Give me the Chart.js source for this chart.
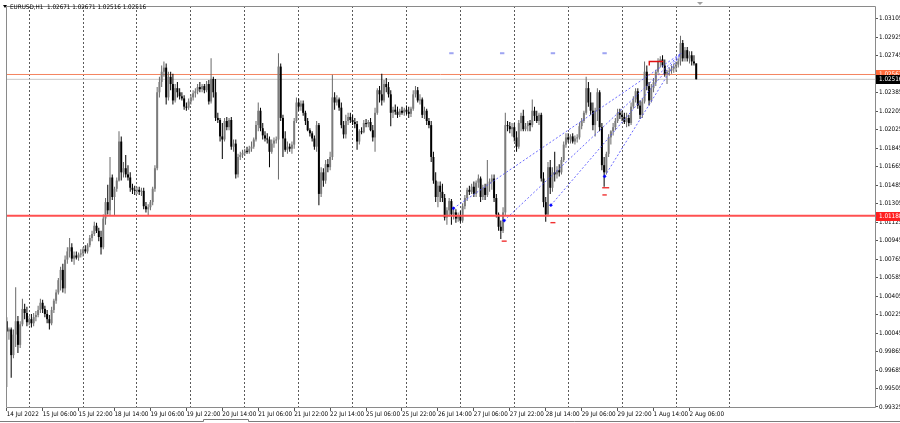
<!DOCTYPE html>
<html><head><meta charset="utf-8">
<script src="https://cdn.jsdelivr.net/npm/chart.js@4/dist/chart.umd.min.js"></script>
<style>html,body{margin:0;padding:0;background:#fff;}canvas{display:block;}</style>
</head><body>
<canvas id="c" width="900" height="423"></canvas>
<script>
// ---------- DATA ----------
const symbolTitle = "EURUSD,H1  1.02671 1.02671 1.02516 1.02516";
const timeLabels = ["14 Jul 2022","15 Jul 06:00","15 Jul 22:00","18 Jul 14:00","19 Jul 06:00","19 Jul 22:00","20 Jul 14:00","21 Jul 06:00","21 Jul 22:00","22 Jul 14:00","25 Jul 06:00","25 Jul 22:00","26 Jul 14:00","27 Jul 06:00","27 Jul 22:00","28 Jul 14:00","29 Jul 06:00","29 Jul 22:00","1 Aug 14:00","2 Aug 06:00"];
const priceTicks = [0.99325,0.99505,0.99685,0.99865,1.00045,1.00225,1.00405,1.00585,1.00765,1.00945,1.01125,1.01305,1.01485,1.01665,1.01845,1.02025,1.02205,1.02385,1.02565,1.02745,1.02925,1.03105];

const opens = [1.0016,1.0006,1.0008,0.9983,1.0003,1.0016,0.9993,1.0013,1.0028,1.0024,1.0015,1.0018,1.0014,1.0020,1.0022,1.0027,1.0034,1.0028,1.0023,1.0018,
1.0014,1.0027,1.0036,1.0044,1.0056,1.0066,1.0048,1.0076,1.0084,1.0088,1.0077,1.0080,1.0078,1.0081,1.0082,1.0086,1.0084,1.0090,1.0097,1.0101,
1.0109,1.0104,1.0098,1.0088,1.0116,1.0132,1.0124,1.0156,1.0137,1.0145,1.0153,1.0191,1.0161,1.0165,1.0159,1.0156,1.0146,1.0144,1.0143,1.0144,
1.0142,1.0143,1.0128,1.0125,1.0127,1.0132,1.0145,1.0165,1.0239,1.0249,1.0259,1.0263,1.0234,1.0254,1.0247,1.0231,1.0243,1.0239,1.0235,1.0233,
1.0225,1.0224,1.0230,1.0234,1.0238,1.0240,1.0244,1.0242,1.0245,1.0241,1.0247,1.0230,1.0252,1.0239,1.0214,1.0212,1.0196,1.0193,1.0211,1.0205,
1.0212,1.0186,1.0189,1.0159,1.0176,1.0178,1.0180,1.0182,1.0181,1.0184,1.0186,1.0193,1.0207,1.0221,1.0204,1.0197,1.0194,1.0193,1.0181,1.0189,
1.0192,1.0193,1.0264,1.0214,1.0194,1.0183,1.0186,1.0184,1.0188,1.0211,1.0229,1.0225,1.0228,1.0219,1.0211,1.0202,1.0199,1.0194,1.0186,1.0207,
1.0140,1.0161,1.0153,1.0169,1.0166,1.0176,1.0234,1.0229,1.0232,1.0224,1.0207,1.0198,1.0211,1.0215,1.0212,1.0210,1.0208,1.0191,1.0201,1.0200,
1.0209,1.0208,1.0210,1.0202,1.0195,1.0219,1.0241,1.0237,1.0231,1.0247,1.0244,1.0237,1.0219,1.0222,1.0220,1.0217,1.0221,1.0219,1.0222,1.0220,
1.0218,1.0223,1.0237,1.0241,1.0231,1.0232,1.0217,1.0221,1.0211,1.0207,1.0176,1.0153,1.0137,1.0148,1.0142,1.0136,1.0117,1.0124,1.0133,1.0120,
1.0122,1.0116,1.0119,1.0114,1.0128,1.0136,1.0144,1.0142,1.0147,1.0140,1.0151,1.0155,1.0137,1.0146,1.0139,1.0150,1.0152,1.0155,1.0136,1.0120,
1.0108,1.0104,1.0122,1.0207,1.0206,1.0203,1.0205,1.0195,1.0186,1.0209,1.0216,1.0203,1.0206,1.0209,1.0207,1.0221,1.0216,1.0211,1.0217,1.0155,
1.0132,1.0120,1.0166,1.0146,1.0161,1.0159,1.0163,1.0161,1.0173,1.0188,1.0195,1.0193,1.0196,1.0191,1.0194,1.0195,1.0206,1.0211,1.0219,1.0243,
1.0229,1.0221,1.0207,1.0221,1.0239,1.0205,1.0168,1.0161,1.0179,1.0195,1.0201,1.0205,1.0211,1.0219,1.0217,1.0215,1.0210,1.0214,1.0209,1.0225,
1.0232,1.0240,1.0226,1.0217,1.0230,1.0259,1.0245,1.0231,1.0243,1.0249,1.0259,1.0269,1.0271,1.0265,1.0257,1.0259,1.0260,1.0262,1.0264,1.0266,
1.0269,1.0287,1.0272,1.0280,1.0272,1.0275,1.0269,1.02671];

const highs = [1.0020,1.0010,1.0010,1.0008,1.0049,1.0021,1.0016,1.0038,1.0033,1.0030,1.0021,1.0023,1.0024,1.0026,1.0031,1.0038,1.0037,1.0031,1.0027,1.0022,
1.0030,1.0038,1.0047,1.0058,1.0069,1.0072,1.0080,1.0088,1.0097,1.0092,1.0084,1.0084,1.0083,1.0086,1.0088,1.0090,1.0092,1.0100,1.0104,1.0113,
1.0112,1.0107,1.0104,1.0120,1.0136,1.0149,1.0176,1.0159,1.0147,1.0156,1.0201,1.0196,1.0171,1.0178,1.0168,1.0161,1.0150,1.0148,1.0147,1.0147,
1.0146,1.0146,1.0132,1.0130,1.0134,1.0147,1.0168,1.0244,1.0254,1.0265,1.0269,1.0267,1.0259,1.0259,1.0257,1.0247,1.0249,1.0243,1.0239,1.0236,
1.0229,1.0233,1.0237,1.0241,1.0243,1.0247,1.0249,1.0247,1.0247,1.0250,1.0251,1.0272,1.0254,1.0252,1.0219,1.0214,1.0209,1.0214,1.0215,1.0214,
1.0215,1.0193,1.0193,1.0179,1.0181,1.0183,1.0184,1.0186,1.0187,1.0191,1.0195,1.0211,1.0229,1.0224,1.0209,1.0201,1.0199,1.0196,1.0193,1.0195,
1.0196,1.0277,1.0267,1.0217,1.0201,1.0191,1.0189,1.0191,1.0214,1.0234,1.0233,1.0231,1.0231,1.0221,1.0214,1.0204,1.0201,1.0197,1.0211,1.0209,
1.0166,1.0165,1.0173,1.0174,1.0181,1.0256,1.0239,1.0236,1.0234,1.0229,1.0211,1.0217,1.0219,1.0219,1.0217,1.0214,1.0211,1.0203,1.0205,1.0212,
1.0213,1.0212,1.0214,1.0207,1.0224,1.0243,1.0245,1.0257,1.0251,1.0253,1.0249,1.0241,1.0225,1.0227,1.0225,1.0223,1.0225,1.0224,1.0226,1.0225,
1.0225,1.0241,1.0245,1.0244,1.0237,1.0234,1.0225,1.0223,1.0214,1.0211,1.0181,1.0161,1.0152,1.0152,1.0150,1.0140,1.0127,1.0136,1.0135,1.0127,
1.0125,1.0122,1.0123,1.0131,1.0139,1.0146,1.0148,1.0150,1.0152,1.0153,1.0159,1.0157,1.0149,1.0150,1.0173,1.0155,1.0159,1.0159,1.0140,1.0122,
1.0114,1.0127,1.0219,1.0211,1.0210,1.0209,1.0209,1.0201,1.0212,1.0219,1.0222,1.0209,1.0211,1.0212,1.0232,1.0225,1.0221,1.0219,1.0219,1.0161,
1.0137,1.0171,1.0173,1.0166,1.0181,1.0167,1.0169,1.0176,1.0191,1.0199,1.0199,1.0198,1.0199,1.0197,1.0198,1.0209,1.0214,1.0221,1.0254,1.0249,
1.0239,1.0229,1.0224,1.0243,1.0241,1.0209,1.0176,1.0181,1.0198,1.0202,1.0209,1.0214,1.0223,1.0223,1.0221,1.0219,1.0219,1.0217,1.0229,1.0235,
1.0243,1.0243,1.0231,1.0233,1.0269,1.0265,1.0249,1.0247,1.0253,1.0261,1.0272,1.0274,1.0275,1.0271,1.0261,1.0263,1.0265,1.0267,1.0269,1.0272,
1.0294,1.0290,1.0283,1.0283,1.0279,1.0279,1.0275,1.02671];

const lows = [0.9952,0.9998,0.9961,0.9980,0.9991,0.9985,0.9990,1.0011,1.0018,1.0011,1.0012,1.0010,1.0011,1.0016,1.0020,1.0024,1.0024,1.0020,1.0014,1.0008,
1.0012,1.0024,1.0033,1.0042,1.0046,1.0044,1.0043,1.0072,1.0078,1.0074,1.0071,1.0076,1.0075,1.0078,1.0079,1.0082,1.0082,1.0088,1.0094,1.0099,
1.0102,1.0094,1.0081,1.0086,1.0110,1.0120,1.0119,1.0134,1.0119,1.0142,1.0152,1.0153,1.0156,1.0156,1.0153,1.0142,1.0140,1.0139,1.0140,1.0139,
1.0138,1.0125,1.0122,1.0119,1.0124,1.0129,1.0142,1.0163,1.0234,1.0244,1.0254,1.0227,1.0231,1.0241,1.0227,1.0229,1.0234,1.0232,1.0231,1.0222,
1.0221,1.0222,1.0227,1.0231,1.0234,1.0237,1.0239,1.0239,1.0238,1.0239,1.0227,1.0228,1.0234,1.0211,1.0209,1.0191,1.0174,1.0191,1.0202,1.0202,
1.0183,1.0181,1.0155,1.0156,1.0173,1.0175,1.0177,1.0179,1.0179,1.0181,1.0184,1.0191,1.0201,1.0201,1.0193,1.0191,1.0189,1.0166,1.0179,1.0185,
1.0189,1.0154,1.0211,1.0176,1.0181,1.0179,1.0181,1.0179,1.0184,1.0209,1.0221,1.0221,1.0216,1.0207,1.0201,1.0196,1.0191,1.0183,1.0181,1.0129,
1.0137,1.0147,1.0150,1.0161,1.0163,1.0173,1.0222,1.0226,1.0221,1.0204,1.0194,1.0194,1.0207,1.0209,1.0207,1.0204,1.0183,1.0188,1.0198,1.0199,
1.0205,1.0205,1.0201,1.0191,1.0181,1.0217,1.0229,1.0226,1.0229,1.0239,1.0234,1.0206,1.0214,1.0217,1.0214,1.0215,1.0217,1.0216,1.0217,1.0214,
1.0215,1.0221,1.0234,1.0229,1.0227,1.0214,1.0213,1.0207,1.0204,1.0171,1.0150,1.0132,1.0127,1.0132,1.0132,1.0114,1.0110,1.0118,1.0110,1.0115,
1.0112,1.0113,1.0112,1.0112,1.0125,1.0133,1.0139,1.0140,1.0137,1.0137,1.0146,1.0132,1.0134,1.0134,1.0137,1.0142,1.0144,1.0132,1.0117,1.0104,
1.0096,1.0102,1.0119,1.0201,1.0199,1.0196,1.0191,1.0181,1.0184,1.0201,1.0201,1.0201,1.0201,1.0201,1.0205,1.0211,1.0209,1.0207,1.0152,1.0127,
1.0113,1.0118,1.0140,1.0142,1.0152,1.0155,1.0157,1.0159,1.0171,1.0185,1.0190,1.0189,1.0189,1.0188,1.0190,1.0193,1.0203,1.0209,1.0217,1.0225,
1.0217,1.0202,1.0196,1.0211,1.0201,1.0163,1.0147,1.0159,1.0176,1.0188,1.0197,1.0202,1.0209,1.0213,1.0211,1.0208,1.0205,1.0206,1.0207,1.0223,
1.0229,1.0223,1.0213,1.0214,1.0228,1.0241,1.0226,1.0229,1.0239,1.0245,1.0257,1.0263,1.0263,1.0254,1.0247,1.0255,1.0257,1.0258,1.0259,1.0263,
1.0265,1.0269,1.0269,1.0269,1.0267,1.0265,1.0265,1.02516];

const closes = [1.0006,1.0008,0.9983,1.0003,1.0016,0.9993,1.0013,1.0028,1.0024,1.0015,1.0018,1.0014,1.0020,1.0022,1.0027,1.0034,1.0028,1.0023,1.0018,1.0014,
1.0027,1.0036,1.0044,1.0056,1.0066,1.0048,1.0076,1.0084,1.0088,1.0077,1.0080,1.0078,1.0081,1.0082,1.0086,1.0084,1.0090,1.0097,1.0101,1.0109,
1.0104,1.0098,1.0088,1.0116,1.0132,1.0124,1.0156,1.0137,1.0145,1.0153,1.0191,1.0161,1.0165,1.0159,1.0156,1.0146,1.0144,1.0143,1.0144,1.0142,
1.0143,1.0128,1.0125,1.0127,1.0132,1.0145,1.0165,1.0239,1.0249,1.0259,1.0263,1.0234,1.0254,1.0247,1.0231,1.0243,1.0239,1.0235,1.0233,1.0225,
1.0224,1.0230,1.0234,1.0238,1.0240,1.0244,1.0242,1.0245,1.0241,1.0247,1.0230,1.0252,1.0239,1.0214,1.0212,1.0196,1.0193,1.0211,1.0205,1.0212,
1.0186,1.0189,1.0159,1.0176,1.0178,1.0180,1.0182,1.0181,1.0184,1.0186,1.0193,1.0207,1.0221,1.0204,1.0197,1.0194,1.0193,1.0181,1.0189,1.0192,
1.0193,1.0264,1.0214,1.0194,1.0183,1.0186,1.0184,1.0188,1.0211,1.0229,1.0225,1.0228,1.0219,1.0211,1.0202,1.0199,1.0194,1.0186,1.0207,1.0140,
1.0161,1.0153,1.0169,1.0166,1.0176,1.0234,1.0229,1.0232,1.0224,1.0207,1.0198,1.0211,1.0215,1.0212,1.0210,1.0208,1.0191,1.0201,1.0200,1.0209,
1.0208,1.0210,1.0202,1.0195,1.0219,1.0241,1.0237,1.0231,1.0247,1.0244,1.0237,1.0219,1.0222,1.0220,1.0217,1.0221,1.0219,1.0222,1.0220,1.0218,
1.0223,1.0237,1.0241,1.0231,1.0232,1.0217,1.0221,1.0211,1.0207,1.0176,1.0153,1.0137,1.0148,1.0142,1.0136,1.0117,1.0124,1.0133,1.0120,1.0122,
1.0116,1.0119,1.0114,1.0128,1.0136,1.0144,1.0142,1.0147,1.0140,1.0151,1.0155,1.0137,1.0146,1.0139,1.0150,1.0152,1.0155,1.0136,1.0120,1.0108,
1.0104,1.0122,1.0207,1.0206,1.0203,1.0205,1.0195,1.0186,1.0209,1.0216,1.0203,1.0206,1.0209,1.0207,1.0221,1.0216,1.0211,1.0217,1.0155,1.0132,
1.0120,1.0166,1.0146,1.0161,1.0159,1.0163,1.0161,1.0173,1.0188,1.0195,1.0193,1.0196,1.0191,1.0194,1.0195,1.0206,1.0211,1.0219,1.0243,1.0229,
1.0221,1.0207,1.0221,1.0239,1.0205,1.0168,1.0161,1.0179,1.0195,1.0201,1.0205,1.0211,1.0219,1.0217,1.0215,1.0210,1.0214,1.0209,1.0225,1.0232,
1.0240,1.0226,1.0217,1.0230,1.0259,1.0245,1.0231,1.0243,1.0249,1.0259,1.0269,1.0271,1.0265,1.0257,1.0259,1.0260,1.0262,1.0264,1.0266,1.0269,
1.0287,1.0272,1.0280,1.0272,1.0275,1.0269,1.02671,1.02516];

// horizontal levels
const supportLevel = [1.01188];
const resistanceLevel = [1.02563];
const bidLevel = [1.02516];
// fan trend lines (bar index, price)
const fanStartBars = [198.9, 221.5, 242.3, 266.2];
const fanStartPrices = [1.0126, 1.0114, 1.0129, 1.0157];
const fanEndBars = [300.3];
const fanEndPrices = [1.0277];
// small marks
const topMarkBars = [198.0, 220.6, 243.2, 266.2];
const topMarkPrices = [1.0277, 1.0277, 1.0277, 1.0277];
const lowMarkBars = [221.5, 243.2, 266.7, 266.2];
const lowMarkPrices = [1.0094, 1.0112, 1.0146, 1.0139];
const rangeBars = [286.1, 286.1, 292.3];
const rangePrices = [1.0265, 1.0269, 1.0269];

// ---------- CHART ----------
const FONT = "'Liberation Sans Narrow','DejaVu Sans Condensed','Liberation Sans',sans-serif";
const FS = 6.3;
const X_MIN = -0.31, X_MAX = 386.6;
const labelBars = timeLabels.map((_, k) => k * 16);
const dayBars = [];
for (let b = 10; b <= 322; b += 24) dayBars.push(b);
const UP = '#7c7c7c', DN = '#000000';
const isUp = i => closes[i] >= opens[i];
const idx = closes.map((_, i) => i);

const wickData = idx.map(i => ({x: i, y: [lows[i], highs[i]]}));
const bodyData = idx.map(i => ({x: i, y: [opens[i], closes[i]]}));
const colorFn = c => isUp(c.dataIndex) ? UP : DN;

const hline = (v) => [{x: X_MIN, y: v}, {x: X_MAX, y: v}];

const datasets = [
  {type:'bar', data: wickData, grouped:false, barPercentage:0.45, categoryPercentage:1, backgroundColor: c => isUp(c.dataIndex) ? '#6a6a6a' : DN, borderWidth:0, order:4},
  {type:'bar', data: bodyData, grouped:false, barPercentage:0.88, categoryPercentage:1, minBarLength:1, backgroundColor: colorFn, borderWidth:0, order:3},
  {type:'line', data: hline(bidLevel[0]), borderColor:'#c8c8c8', borderWidth:1, pointRadius:0, order:6},
  {type:'line', data: hline(resistanceLevel[0]), borderColor:'#f4845f', borderWidth:1, pointRadius:0, order:5},
  {type:'line', data: hline(supportLevel[0]), borderColor:'#ff5050', borderWidth:2, pointRadius:0, order:0},
];
fanStartBars.forEach((b, k) => {
  datasets.push({type:'line', data:[{x:b, y:fanStartPrices[k]}, {x:fanEndBars[0], y:fanEndPrices[0]}],
    borderColor:'rgba(80,80,255,0.85)', borderWidth:1, borderDash:[2,2], pointRadius:0, order:1});
});
datasets.push({type:'scatter', data: fanStartBars.map((b,k)=>({x:b, y:fanStartPrices[k]})),
  pointRadius:1.6, pointStyle:'rectRot', pointBackgroundColor:'#0000ff', pointBorderColor:'#0000ff', pointBorderWidth:0.5, order:0});
datasets.push({type:'scatter', data: topMarkBars.map((b,k)=>({x:b, y:topMarkPrices[k]})),
  pointRadius:2.2, pointStyle:'line', pointBorderColor:'#9ea4f2', pointBorderWidth:2, order:0});
datasets.push({type:'scatter', data: lowMarkBars.map((b,k)=>({x:b, y:lowMarkPrices[k]})),
  pointRadius:[2.5,2.5,3.5,2.2], pointStyle:'line', pointBorderColor:'#f03030', pointBorderWidth:1.4, order:0});
datasets.push({type:'line', data: rangeBars.map((b,k)=>({x:b, y:rangePrices[k]})),
  borderColor:'#e01010', borderWidth:1.4, pointRadius:0, order:0});

const overlay = {
  id:'overlay',
  afterDraw(chart) {
    const ctx = chart.ctx, ca = chart.chartArea, ys = chart.scales.y;
    ctx.save();
    // frame
    ctx.strokeStyle = '#8a8a8a'; ctx.lineWidth = 1;
    ctx.beginPath();
    ctx.moveTo(ca.left + 0.5, ca.top + 0.5); ctx.lineTo(ca.right + 0.5, ca.top + 0.5);
    ctx.lineTo(ca.right + 0.5, ca.bottom - 0.5); ctx.lineTo(ca.left + 0.5, ca.bottom - 0.5); ctx.closePath();
    ctx.stroke();
    // title
    ctx.fillStyle = '#000';
    ctx.beginPath(); ctx.moveTo(3, 5); ctx.lineTo(7, 5); ctx.lineTo(5, 8); ctx.closePath(); ctx.fill();
    ctx.font = FS + 'px ' + FONT; ctx.textBaseline = 'middle'; ctx.textAlign = 'left';
    ctx.fillText(symbolTitle, 10, 7);
    // chart shift marker
    ctx.fillStyle = '#a0a0a0';
    ctx.beginPath(); ctx.moveTo(697, 2); ctx.lineTo(703, 2); ctx.lineTo(700, 5); ctx.closePath(); ctx.fill();
    // price boxes
    const box = (v, bg, txt) => {
      const y = ys.getPixelForValue(v);
      ctx.fillStyle = bg; ctx.fillRect(ca.right + 1, Math.round(y) - 4, 900 - ca.right - 1, 9);
      ctx.fillStyle = '#fff'; ctx.fillText(txt, ca.right + 4, Math.round(y) + 0.5);
    };
    box(resistanceLevel[0], '#ff6a3a', resistanceLevel[0].toFixed(5));
    box(bidLevel[0], '#000', bidLevel[0].toFixed(5));
    box(supportLevel[0], '#ff2020', supportLevel[0].toFixed(5));
    // bottom tab strip
    ctx.strokeStyle = '#7c7c7c';
    ctx.beginPath();
    ctx.moveTo(0, 421.5); ctx.lineTo(203.5, 421.5); ctx.lineTo(203.5, 419.5); ctx.lineTo(248.5, 419.5); ctx.lineTo(248.5, 421.5); ctx.lineTo(900, 421.5);
    ctx.stroke();
    ctx.restore();
  }
};

Chart.defaults.font.family = FONT;
new Chart(document.getElementById('c'), {
  type:'bar',
  data:{datasets},
  options:{
    responsive:false, animation:false, events:[],
    layout:{padding:{left:1, top:2, right:0, bottom:0}},
    plugins:{legend:{display:false}, tooltip:{enabled:false}},
    scales:{
      x:{
        type:'linear', min:X_MIN, max:X_MAX, offset:false,
        afterBuildTicks: s => { s.ticks = labelBars.concat(dayBars).sort((a,b)=>a-b).map(v=>({value:v})); },
        afterFit: s => { s.height = 15; },
        grid:{offset:false, drawOnChartArea:true, drawTicks:true, tickLength:3, lineWidth:1,
          color: c => (c.tick && dayBars.includes(c.tick.value)) ? '#5a5a5a' : 'rgba(0,0,0,0)',
          tickColor: c => (c.tick && labelBars.includes(c.tick.value)) ? '#555' : 'rgba(0,0,0,0)'},
        border:{display:false, dash:[2,2]},
        ticks:{autoSkip:false, maxRotation:0, minRotation:0, align:'start', padding:0, color:'#000',
          font:{size:FS, family:FONT},
          callback: v => { const k = labelBars.indexOf(v); return k >= 0 ? timeLabels[k] : ''; }}
      },
      y:{
        type:'linear', position:'right', min:0.99315, max:1.0323, beginAtZero:false,
        afterBuildTicks: s => { s.ticks = priceTicks.map(v=>({value:v})); },
        afterFit: s => { s.width = 25; },
        grid:{drawOnChartArea:false, drawTicks:true, tickLength:3, tickColor:'#555'},
        border:{display:false},
        ticks:{autoSkip:false, padding:1, color:'#000', font:{size:FS, family:FONT},
          callback: v => v.toFixed(5)}
      }
    }
  },
  plugins:[overlay]
});
</script>
</body></html>
